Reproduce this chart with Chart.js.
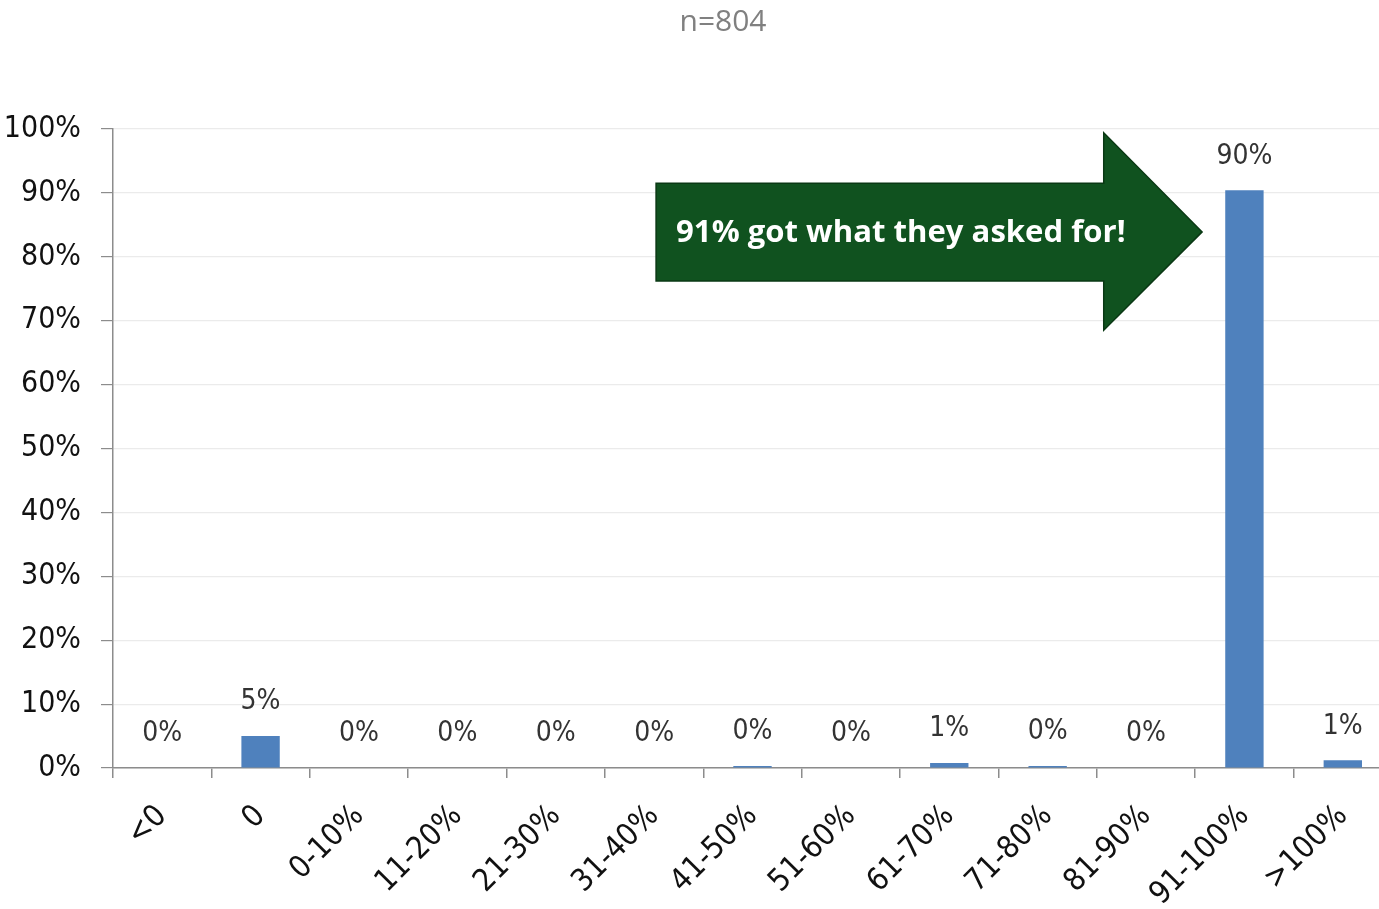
<!DOCTYPE html>
<html lang="en">
<head>
  <meta charset="UTF-8" />
  <title>n=804</title>
  <script src="https://cdn.jsdelivr.net/npm/chart.js"></script>
  <style>
    html, body { margin: 0; padding: 0; background: #fff; overflow: hidden; }
    #wrap { width: 1446px; height: 909px; }
  </style>
</head>
<body>
  <div id="wrap"><canvas id="chart" width="1446" height="909"></canvas></div>

  <script>
    const categories = ['<0', '0', '0-10%', '11-20%', '21-30%', '31-40%', '41-50%', '51-60%', '61-70%', '71-80%', '81-90%', '91-100%', '>100%'];
    const shares = [0, 5.0, 0, 0, 0, 0, 0.3, 0, 0.8, 0.3, 0, 90.4, 1.2];
    const yTicks = [0, 10, 20, 30, 40, 50, 60, 70, 80, 90, 100];
    const titleText = 'n=804';
    const calloutText = '91% got what they asked for!';

    const FONT = "'Liberation Sans Narrow', 'DejaVu Sans Condensed', sans-serif";
    Chart.defaults.font.family = FONT;

    // sample size caption, centred on the (wider than window) canvas
    const caption = {
      id: 'caption',
      afterDraw(chart) {
        const ctx = chart.ctx;
        ctx.save();
        ctx.font = "30px 'Open Sans', sans-serif";
        ctx.fillStyle = '#808080';
        ctx.textAlign = 'center';
        ctx.textBaseline = 'middle';
        ctx.fillText(titleText, chart.width / 2, 22);
        ctx.restore();
      }
    };

    // value labels above each bar
    const barLabels = {
      id: 'barLabels',
      afterDatasetsDraw(chart) {
        const ctx = chart.ctx;
        const meta = chart.getDatasetMeta(0);
        ctx.save();
        ctx.font = "28px " + FONT;
        ctx.fillStyle = '#333';
        ctx.textAlign = 'center';
        ctx.textBaseline = 'middle';
        meta.data.forEach((bar, i) => {
          ctx.fillText(Math.round(shares[i]) + '%', bar.x, bar.y - 34);
        });
        ctx.restore();
      }
    };

    // green block arrow pointing at the 91-100% bar
    const callout = {
      id: 'callout',
      afterDatasetsDraw(chart) {
        const x = chart.scales.x, y = chart.scales.y;
        const px = v => x.getPixelForValue(v);
        const py = v => y.getPixelForValue(v);
        const left = px(5.02), neck = px(9.57), tip = px(10.57);
        const bodyTop = py(91.5), bodyBot = py(76.2);
        const headTop = py(99.4), headBot = py(68.5), mid = py(83.9);
        const ctx = chart.ctx;
        ctx.save();
        ctx.beginPath();
        ctx.moveTo(left, bodyTop);
        ctx.lineTo(neck, bodyTop);
        ctx.lineTo(neck, headTop);
        ctx.lineTo(tip, mid);
        ctx.lineTo(neck, headBot);
        ctx.lineTo(neck, bodyBot);
        ctx.lineTo(left, bodyBot);
        ctx.closePath();
        ctx.fillStyle = '#10521f';
        ctx.fill();
        ctx.lineWidth = 1.5;
        ctx.strokeStyle = '#0a3814';
        ctx.stroke();

        let size = 34;
        ctx.font = "bold " + size + "px 'Open Sans', sans-serif";
        const w = ctx.measureText(calloutText).width;
        size = size * 450 / w;
        ctx.font = "bold " + size.toFixed(1) + "px 'Open Sans', sans-serif";
        ctx.fillStyle = '#fff';
        ctx.textAlign = 'left';
        ctx.textBaseline = 'middle';
        ctx.fillText(calloutText, left + 20, mid + 1);
        ctx.restore();
      }
    };

    new Chart(document.getElementById('chart'), {
      type: 'bar',
      data: {
        labels: categories,
        datasets: [{
          data: shares,
          backgroundColor: '#4f81bd',
          borderWidth: 0,
          barPercentage: 1,
          categoryPercentage: 0.39
        }]
      },
      options: {
        responsive: false,
        animation: false,
        layout: { padding: { left: 0, right: 54, top: 129, bottom: 0 } },
        plugins: {
          legend: { display: false },
          tooltip: { enabled: false },
          title: { display: false }
        },
        scales: {
          x: {
            offset: true,
            grid: {
              drawOnChartArea: false,
              offset: true,
              tickLength: 10,
              color: '#8c8c8c',
              lineWidth: 1.5
            },
            border: { color: '#8c8c8c', width: 1.5 },
            ticks: {
              autoSkip: false,
              maxRotation: 45,
              minRotation: 45,
              padding: 20,
              color: '#111',
              font: { size: 31 }
            },
            afterFit(scale) { scale.height = 141; }
          },
          y: {
            min: 0,
            max: 100,
            afterBuildTicks(scale) { scale.ticks = yTicks.map(v => ({ value: v })); },
            grid: {
              color: '#ebebeb',
              tickColor: '#8c8c8c',
              tickLength: 12,
              lineWidth: 1.2
            },
            border: { color: '#8c8c8c', width: 1.5 },
            ticks: {
              padding: 20,
              color: '#111',
              font: { size: 30 },
              callback: v => v + '%'
            },
            afterFit(scale) { scale.width = 113; }
          }
        }
      },
      plugins: [caption, barLabels, callout]
    });
  </script>
</body>
</html>
